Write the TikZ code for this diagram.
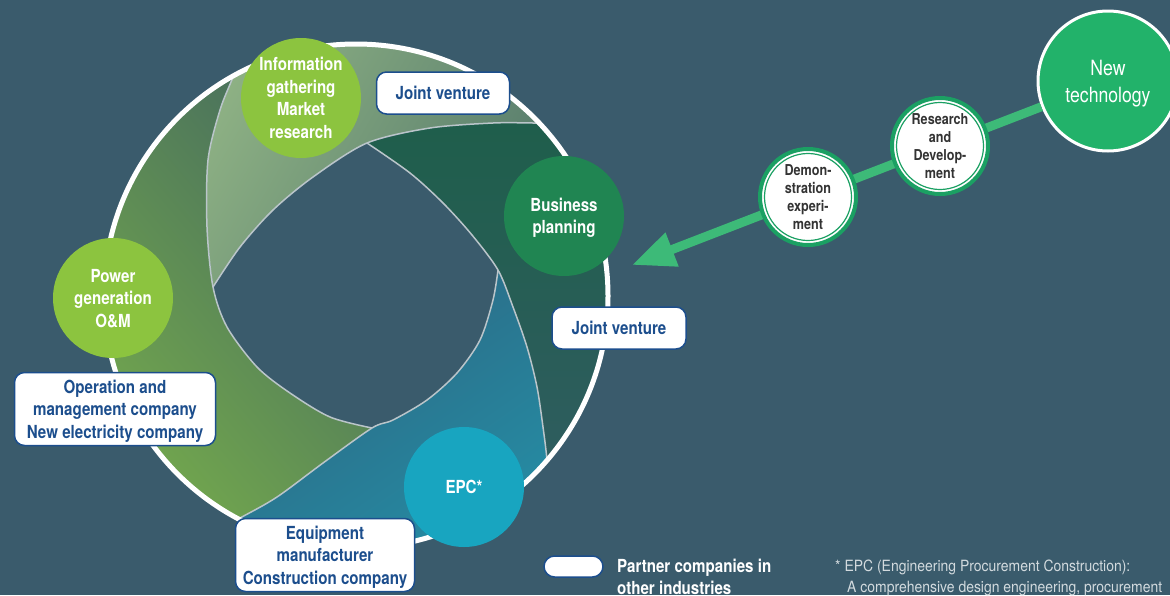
\documentclass[tikz,border=0pt]{standalone}
\usepackage{fontspec}
\setmainfont{TeX Gyre Heros}
\newfontfamily\condfont{TeX Gyre Heros}[FakeStretch=0.84]
\newfontfamily\notefont{TeX Gyre Heros}[FakeStretch=0.9]
\usetikzlibrary{arrows.meta}

\definecolor{bgslate}{HTML}{3A5B6C}
\definecolor{stagelime}{HTML}{8CC43F}
\definecolor{stagegreen}{HTML}{208552}
\definecolor{stageteal}{HTML}{18A5C0}
\definecolor{techgreen}{HTML}{22B26A}
\definecolor{pathgreen}{HTML}{3DBA78}
\definecolor{ringgreen}{HTML}{1BA063}
\definecolor{partnerblue}{HTML}{1C4E8D}
\definecolor{edgegray}{HTML}{BAC5CA}
\definecolor{notegray}{HTML}{D2DADE}
\definecolor{infolight}{HTML}{95B887}
\definecolor{infodark}{HTML}{4F7469}
\definecolor{plantop}{HTML}{1D5E49}
\definecolor{planbottom}{HTML}{315D62}
\definecolor{epcdark}{HTML}{2D6480}
\definecolor{epcbright}{HTML}{2493AA}
\definecolor{powerdark}{HTML}{43685F}
\definecolor{powerbright}{HTML}{7CB44A}

\tikzset{
  stage/.style={circle, minimum size=120pt, inner sep=0pt, text=white, align=center,
    text depth=0pt, font=\condfont\bfseries\fontsize{18}{22.5}\selectfont},
  partner/.style={draw=partnerblue, line width=1.5pt, fill=white, rounded corners=10pt,
    text=partnerblue, align=center, inner sep=0pt, text depth=0pt,
    font=\condfont\bfseries\fontsize{18}{22.5}\selectfont},
  milestone/.style={circle, draw=ringgreen, line width=4pt, fill=white, minimum size=96pt,
    inner sep=0pt, text=black!80, align=center, text depth=0pt,
    font=\condfont\bfseries\fontsize{15}{18}\selectfont},
  bladeedge/.style={edgegray, line width=1.5pt},
}

\begin{document}
\begin{tikzpicture}[x=1pt, y=-1pt]
\useasboundingbox (0,0) rectangle (1170,595);
\fill[bgslate] (0,0) rectangle (1170,595);

% aperture blades
\begin{scope}
\clip (356,296) circle[radius=252];
\shade[left color=infolight, right color=infodark, shading angle=60]
  plot[smooth] coordinates {(213,287) (240,247) (273,210) (313,177) (367,143) (430,128) (493,123) (533,123) (600,124)}
  -- (620,-20) -- (150,-20) -- (251,30)
  -- plot[smooth] coordinates {(251,30) (233,77) (220,110) (208,160) (207,227) (213,287)} -- cycle;
\shade[top color=plantop, bottom color=planbottom]
  plot[smooth] coordinates {(367,143) (410,173) (443,203) (472,235) (498,270) (513,307) (527,347) (537,387) (543,427) (547,460) (552,520)}
  -- (700,520) -- (700,80) -- (600,124)
  -- plot[smooth] coordinates {(600,124) (533,123) (493,123) (430,128) (367,143)} -- cycle;
\shade[left color=epcdark, right color=epcbright, shading angle=35]
  plot[smooth] coordinates {(498,270) (493,300) (480,340) (457,373) (427,400) (393,420) (372,428) (323,463) (277,497) (240,518) (180,550)}
  -- (180,620) -- (600,620) -- (552,520)
  -- plot[smooth] coordinates {(552,520) (547,460) (543,427) (537,387) (527,347) (513,307) (498,270)} -- cycle;
\shade[left color=powerdark, right color=powerbright, shading angle=-50]
  plot[smooth] coordinates {(372,428) (330,417) (290,393) (257,367) (227,327) (213,287) (207,227) (208,160) (220,110) (233,77) (251,30)}
  -- (80,-10) -- (40,620) -- (180,620)
  -- plot[smooth] coordinates {(180,550) (240,518) (277,497) (323,463) (372,428)} -- cycle;
\draw[bladeedge] plot[smooth] coordinates {(213,287) (240,247) (273,210) (313,177) (367,143) (430,128) (493,123) (533,123) (600,124)};
\draw[bladeedge] plot[smooth] coordinates {(367,143) (410,173) (443,203) (472,235) (498,270) (513,307) (527,347) (537,387) (543,427) (547,460) (552,520)};
\draw[bladeedge] plot[smooth] coordinates {(498,270) (493,300) (480,340) (457,373) (427,400) (393,420) (372,428) (323,463) (277,497) (240,518) (180,550)};
\draw[bladeedge] plot[smooth] coordinates {(372,428) (330,417) (290,393) (257,367) (227,327) (213,287) (207,227) (208,160) (220,110) (233,77) (251,30)};
\end{scope}
\draw[white, line width=5pt] (356,296) circle[radius=252];

% stages
\node[stage, fill=stagelime] (info) at (301,98) {Information\\gathering\\Market\\research};
\node[stage, fill=stagegreen] (planning) at (564,216) {Business\\planning};
\node[stage, fill=stagelime] (power) at (113,298) {Power\\generation\\O\&M};
\node[stage, fill=stageteal] (epc) at (464,487) {EPC*};

% partners
\node[partner, minimum width=133pt, minimum height=42pt] (jvtop) at (443,93) {Joint venture};
\node[partner, minimum width=134pt, minimum height=42pt] (jvright) at (619,328) {Joint venture};
\node[partner, minimum width=201pt, minimum height=73pt] (operation) at (115,409) {Operation and\\management company\\New electricity company};
\node[partner, minimum width=179pt, minimum height=73pt] (equipment) at (325,555) {Equipment\\manufacturer\\Construction company};

% technology path
\node[circle, draw=white, line width=3pt, fill=techgreen, minimum size=140pt, inner sep=0pt,
  text=white, align=center, text depth=0pt, font=\condfont\fontsize{21}{27}\selectfont] (newtech) at (1108,81) {New\\technology};
\coordinate (arrowtip) at (632,265);
\draw[pathgreen, line width=9pt, -{Triangle[length=43pt,width=34pt]}] (newtech) -- (arrowtip);
\node[milestone] (research) at (940,146) {Research\\and\\Develop-\\ment};
\node[milestone] (demo) at (808,197) {Demon-\\stration\\experi-\\ment};
\draw[ringgreen, line width=1.2pt] (research.center) circle[radius=43.5];
\draw[ringgreen, line width=1.2pt] (demo.center) circle[radius=43.5];

% legend and note
\node[partner, minimum width=59pt, minimum height=21pt, rounded corners=10.5pt] (legendkey) at (573.5,566.5) {};
\node[anchor=north west, inner sep=0pt, align=left, text=white,
  font=\condfont\bfseries\fontsize{18}{22}\selectfont] (legendtext) at (617,558.5) {Partner companies in\\other industries};
\node[anchor=north west, inner sep=0pt, align=left, text=notegray,
  font=\notefont\fontsize{15.5}{20.5}\selectfont] (epcnote) at (835,560) {* EPC (Engineering Procurement Construction):\\\hspace*{12pt}A comprehensive design engineering, procurement};
\end{tikzpicture}
\end{document}
